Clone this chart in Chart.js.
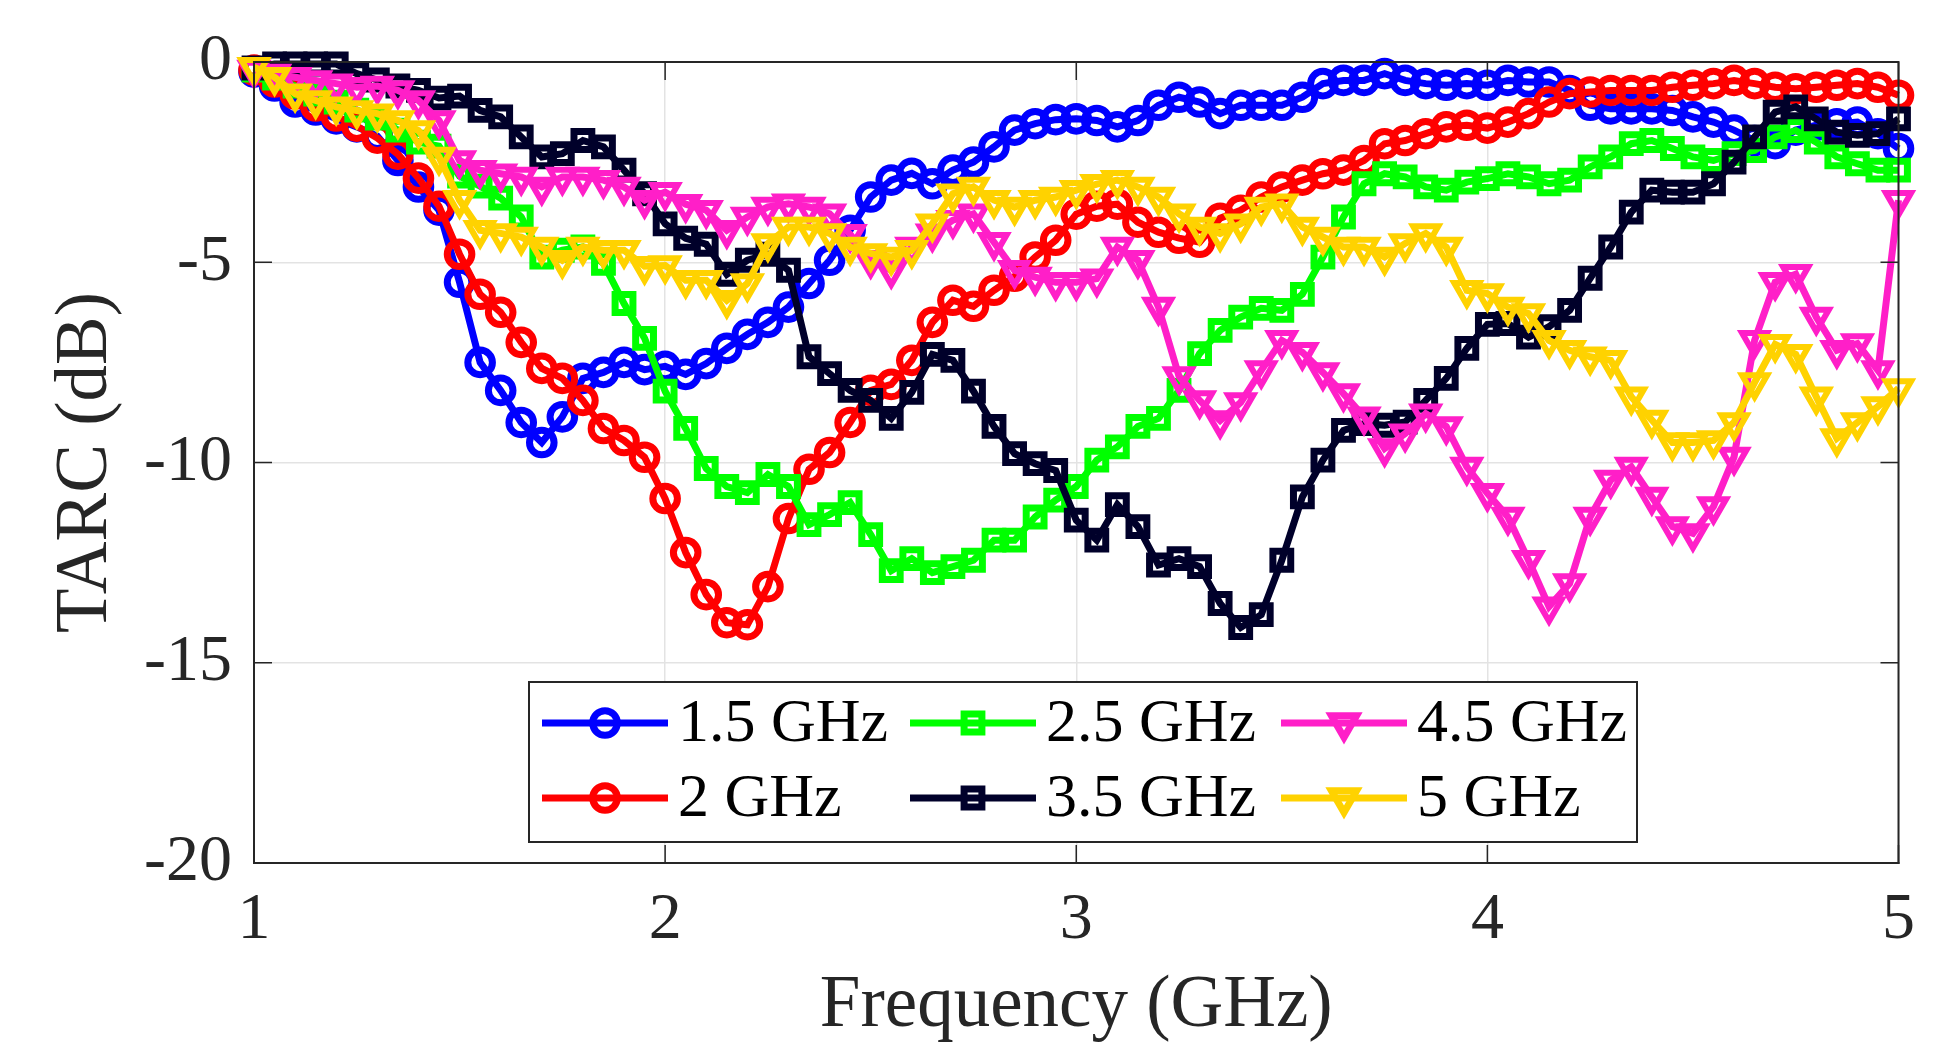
<!DOCTYPE html>
<html>
<head>
<meta charset="utf-8">
<title>TARC vs Frequency</title>
<script src="https://cdn.jsdelivr.net/npm/chart.js@4.4.1/dist/chart.umd.min.js"></script>
<style>
html, body { margin: 0; padding: 0; background: #fff; }
#wrap { width: 1933px; height: 1043px; }
</style>
</head>
<body>
<div id="wrap"><canvas id="tarc" width="1933" height="1043"></canvas></div>
<script>
const freq = [
    1.00, 1.05, 1.10, 1.15, 1.20, 1.25, 1.30, 1.35, 1.40,
    1.45, 1.50, 1.55, 1.60, 1.65, 1.70, 1.75, 1.80, 1.85,
    1.90, 1.95, 2.00, 2.05, 2.10, 2.15, 2.20, 2.25, 2.30,
    2.35, 2.40, 2.45, 2.50, 2.55, 2.60, 2.65, 2.70, 2.75,
    2.80, 2.85, 2.90, 2.95, 3.00, 3.05, 3.10, 3.15, 3.20,
    3.25, 3.30, 3.35, 3.40, 3.45, 3.50, 3.55, 3.60, 3.65,
    3.70, 3.75, 3.80, 3.85, 3.90, 3.95, 4.00, 4.05, 4.10,
    4.15, 4.20, 4.25, 4.30, 4.35, 4.40, 4.45, 4.50, 4.55,
    4.60, 4.65, 4.70, 4.75, 4.80, 4.85, 4.90, 4.95, 5.00
];

const tarc15 = [
    -0.25, -0.6, -1.0, -1.2, -1.42, -1.62, -1.85, -2.46, -3.12,
    -3.7, -5.5, -7.5, -8.2, -9.0, -9.5, -8.86, -7.9, -7.75,
    -7.5, -7.68, -7.6, -7.8, -7.53, -7.15, -6.8, -6.5, -6.12,
    -5.53, -4.95, -4.2, -3.37, -2.95, -2.78, -3.04, -2.7, -2.5,
    -2.12, -1.7, -1.54, -1.44, -1.42, -1.46, -1.62, -1.46, -1.08,
    -0.88, -1.0, -1.29, -1.08, -1.08, -1.08, -0.88, -0.54, -0.46,
    -0.46, -0.29, -0.46, -0.54, -0.58, -0.54, -0.58, -0.46, -0.5,
    -0.5, -0.71, -1.08, -1.17, -1.17, -1.17, -1.21, -1.37, -1.5,
    -1.7, -1.96, -2.04, -1.7, -1.58, -1.54, -1.5, -1.79, -2.16
];

const tarc20 = [
    -0.2, -0.5, -0.8, -1.1, -1.35, -1.6, -1.9, -2.3, -2.9,
    -3.6, -4.8, -5.8, -6.25, -7.0, -7.65, -7.9, -8.45, -9.15,
    -9.45, -9.87, -10.9, -12.25, -13.3, -14.0, -14.05, -13.1, -11.4,
    -10.17, -9.75, -9.0, -8.2, -8.05, -7.45, -6.5, -5.95, -6.1,
    -5.7, -5.35, -4.87, -4.45, -3.8, -3.6, -3.55, -4.0, -4.25,
    -4.4, -4.5, -3.9, -3.7, -3.37, -3.12, -2.95, -2.79, -2.7,
    -2.46, -2.04, -1.96, -1.79, -1.62, -1.58, -1.65, -1.5, -1.29,
    -1.0, -0.79, -0.75, -0.71, -0.71, -0.71, -0.63, -0.58, -0.54,
    -0.46, -0.54, -0.63, -0.67, -0.63, -0.58, -0.54, -0.63, -0.83
];

const tarc25 = [
    -0.2, -0.4, -0.6, -0.8, -1.0, -1.2, -1.4, -1.7, -2.0,
    -2.1, -2.85, -3.1, -3.4, -3.87, -4.87, -4.7, -4.62, -5.03,
    -6.03, -6.9, -8.22, -9.15, -10.15, -10.6, -10.75, -10.3, -10.6,
    -11.55, -11.3, -11.0, -11.8, -12.7, -12.4, -12.75, -12.6, -12.44,
    -11.94, -11.94, -11.36, -10.94, -10.6, -9.94, -9.61, -9.1, -8.9,
    -8.2, -7.28, -6.7, -6.37, -6.15, -6.2, -5.8, -4.87, -3.87,
    -3.04, -2.79, -2.87, -3.12, -3.2, -3.0, -2.91, -2.79, -2.87,
    -3.04, -2.95, -2.62, -2.37, -2.04, -1.96, -2.16, -2.37, -2.46,
    -2.29, -2.21, -1.87, -1.71, -2.0, -2.37, -2.54, -2.7, -2.7
];

const tarc35 = [
    -0.15, -0.05, -0.05, -0.05, -0.05, -0.29, -0.45, -0.6, -0.71,
    -0.9, -0.85, -1.21, -1.37, -1.87, -2.37, -2.29, -1.96, -2.12,
    -2.7, -3.29, -4.04, -4.4, -4.55, -5.3, -4.95, -4.8, -5.2,
    -7.36, -7.78, -8.2, -8.45, -8.9, -8.25, -7.3, -7.45, -8.22,
    -9.1, -9.78, -10.03, -10.2, -11.44, -11.94, -11.05, -11.6, -12.56,
    -12.4, -12.6, -13.52, -14.12, -13.8, -12.44, -10.86, -9.94, -9.2,
    -9.03, -9.07, -8.99, -8.45, -7.9, -7.15, -6.55, -6.53, -6.87,
    -6.61, -6.2, -5.4, -4.62, -3.75, -3.2, -3.25, -3.25, -3.04,
    -2.5, -1.87, -1.25, -1.12, -1.42, -1.75, -1.83, -1.79, -1.42
];

const tarc45 = [
    -0.2, -0.3, -0.38, -0.46, -0.54, -0.63, -0.6, -0.71, -0.96,
    -1.46, -2.46, -2.7, -2.79, -2.87, -3.12, -2.87, -2.87, -2.95,
    -3.12, -3.45, -3.25, -3.55, -3.7, -4.2, -3.87, -3.62, -3.54,
    -3.62, -3.79, -4.3, -4.95, -5.2, -4.62, -4.29, -3.95, -3.79,
    -4.5, -5.2, -5.37, -5.5, -5.5, -5.41, -4.62, -4.95, -6.12,
    -7.85, -8.45, -8.95, -8.5, -7.7, -6.95, -7.25, -7.75, -8.28,
    -8.86, -9.65, -9.28, -8.78, -9.1, -10.11, -10.77, -11.36, -12.44,
    -13.6, -13.02, -11.36, -10.44, -10.11, -10.86, -11.6, -11.77, -11.1,
    -9.86, -6.95, -5.5, -5.3, -6.37, -7.2, -7.03, -7.7, -3.45
];

const tarc50 = [
    -0.13, -0.38, -0.79, -0.96, -1.12, -1.21, -1.29, -1.46, -1.71,
    -2.37, -3.45, -4.2, -4.28, -4.37, -4.62, -4.95, -4.62, -4.7,
    -4.7, -5.1, -5.08, -5.45, -5.45, -5.95, -5.53, -4.53, -4.12,
    -4.12, -4.28, -4.62, -4.78, -4.87, -4.7, -4.04, -3.29, -3.12,
    -3.45, -3.62, -3.45, -3.37, -3.2, -3.05, -2.95, -3.12, -3.37,
    -3.79, -4.12, -4.28, -4.04, -3.62, -3.54, -4.12, -4.37, -4.62,
    -4.62, -4.87, -4.53, -4.28, -4.62, -5.7, -5.78, -6.12, -6.28,
    -6.95, -7.2, -7.36, -7.45, -8.36, -8.94, -9.5, -9.5, -9.45,
    -9.0, -8.0, -7.05, -7.3, -8.36, -9.4, -9.0, -8.6, -8.15
];

const xTicks = [1, 2, 3, 4, 5];
const yTicks = [0, -5, -10, -15, -20];

const series = [
    { name: '1.5 GHz', values: tarc15, color: '#0000ff', marker: 'circle' },
    { name: '2 GHz', values: tarc20, color: '#ff0000', marker: 'circle' },
    { name: '2.5 GHz', values: tarc25, color: '#00ff00', marker: 'square' },
    { name: '3.5 GHz', values: tarc35, color: '#00002a', marker: 'square' },
    { name: '4.5 GHz', values: tarc45, color: '#ff1fc8', marker: 'triangle' },
    { name: '5 GHz', values: tarc50, color: '#ffd200', marker: 'triangle' }
];

const textColor = '#262626';
const fontFamily = "'Liberation Serif', 'Times New Roman', serif";
const lineW = 7;
const markW = 7;
const triR = 14.5;

function markerOpts(m) {
    if (m === 'circle') return { pointStyle: 'circle', pointRadius: 12.3, pointRotation: 0 };
    if (m === 'square') return { pointStyle: 'rect', pointRadius: 12.6, pointRotation: 0 };
    return { pointStyle: 'triangle', pointRadius: triR, pointRotation: 180 };
}

function drawMarker(ctx, m, x, y, color) {
    ctx.save();
    ctx.strokeStyle = color;
    ctx.lineWidth = markW;
    ctx.beginPath();
    if (m === 'circle') {
        ctx.arc(x, y, 12.3, 0, Math.PI * 2);
    } else if (m === 'square') {
        ctx.rect(x - 8.9, y - 8.9, 17.8, 17.8);
    } else {
        ctx.moveTo(x - triR * 0.866, y - triR / 2);
        ctx.lineTo(x + triR * 0.866, y - triR / 2);
        ctx.lineTo(x, y + triR);
        ctx.closePath();
    }
    ctx.stroke();
    ctx.restore();
}

const datasets = series.map((s, i) => Object.assign({
    label: s.name,
    data: freq.map((f, k) => ({ x: f, y: s.values[k] })),
    borderColor: s.color,
    backgroundColor: s.color,
    pointBorderColor: s.color,
    pointBackgroundColor: 'rgba(0,0,0,0)',
    borderWidth: lineW,
    pointBorderWidth: s.marker === 'triangle' ? 6 : markW,
    tension: 0,
    clip: false,
    order: series.length - 1 - i
}, markerOpts(s.marker)));

// axes box with MATLAB style inward ticks
const framePlugin = {
    id: 'frame',
    afterDatasetsDraw(chart) {
        const { ctx, chartArea: a, scales } = chart;
        ctx.save();
        ctx.strokeStyle = textColor;
        ctx.lineWidth = 2;
        ctx.strokeRect(a.left, a.top, a.right - a.left, a.bottom - a.top);
        ctx.lineWidth = 1.5;
        ctx.beginPath();
        xTicks.forEach(v => {
            const px = scales.x.getPixelForValue(v);
            ctx.moveTo(px, a.bottom); ctx.lineTo(px, a.bottom - 18);
            ctx.moveTo(px, a.top); ctx.lineTo(px, a.top + 18);
        });
        yTicks.forEach(v => {
            const py = scales.y.getPixelForValue(v);
            ctx.moveTo(a.left, py); ctx.lineTo(a.left + 18, py);
            ctx.moveTo(a.right, py); ctx.lineTo(a.right - 18, py);
        });
        ctx.stroke();
        ctx.restore();
    }
};

// legend drawn inside the axes, two rows by three columns
const legendPlugin = {
    id: 'insideLegend',
    afterDraw(chart) {
        const ctx = chart.ctx;
        const box = { x: 529, y: 682, w: 1108, h: 160 };
        const colX = [542, 910, 1281];
        const rowY = [723, 798];
        ctx.save();
        ctx.fillStyle = '#ffffff';
        ctx.fillRect(box.x, box.y, box.w, box.h);
        ctx.strokeStyle = textColor;
        ctx.lineWidth = 2;
        ctx.strokeRect(box.x, box.y, box.w, box.h);
        ctx.font = '62px ' + fontFamily;
        ctx.textBaseline = 'middle';
        ctx.textAlign = 'left';
        series.forEach((s, i) => {
            const x0 = colX[Math.floor(i / 2)];
            const y0 = rowY[i % 2];
            ctx.strokeStyle = s.color;
            ctx.lineWidth = lineW;
            ctx.beginPath();
            ctx.moveTo(x0, y0);
            ctx.lineTo(x0 + 126, y0);
            ctx.stroke();
            drawMarker(ctx, s.marker, x0 + 63, y0, s.color);
            ctx.fillStyle = '#000000';
            ctx.fillText(s.name, x0 + 136, y0 + 2);
        });
        ctx.restore();
    }
};

Chart.defaults.font.family = fontFamily;
Chart.defaults.color = textColor;

new Chart(document.getElementById('tarc'), {
    type: 'line',
    data: { datasets: datasets },
    options: {
        responsive: false,
        animation: false,
        devicePixelRatio: 1,
        layout: { padding: { left: 0, right: 25, top: 62, bottom: 0 } },
        plugins: {
            legend: { display: false },
            tooltip: { enabled: false }
        },
        scales: {
            x: {
                type: 'linear',
                min: 1,
                max: 5,
                afterBuildTicks: scale => { scale.ticks = xTicks.map(v => ({ value: v })); },
                afterFit: scale => { scale.height = 180; },
                ticks: {
                    font: { size: 66 },
                    color: textColor,
                    padding: 18,
                    maxRotation: 0,
                    callback: v => String(v)
                },
                grid: { color: '#e3e3e3', lineWidth: 1.5, drawTicks: false },
                border: { display: true, color: textColor, width: 2 },
                title: {
                    display: true,
                    text: 'Frequency (GHz)',
                    font: { size: 73, lineHeight: 1.0 },
                    color: textColor,
                    padding: { top: 0, bottom: 0 }
                }
            },
            y: {
                type: 'linear',
                min: -20,
                max: 0,
                afterBuildTicks: scale => { scale.ticks = yTicks.map(v => ({ value: v })); },
                afterFit: scale => { scale.width = 254; },
                ticks: {
                    font: { size: 66 },
                    color: textColor,
                    padding: 22,
                    callback: v => String(v)
                },
                grid: { color: '#e3e3e3', lineWidth: 1.5, drawTicks: false },
                border: { display: true, color: textColor, width: 2 },
                title: {
                    display: true,
                    text: 'TARC (dB)',
                    font: { size: 73, lineHeight: 1.0 },
                    color: textColor,
                    padding: { top: 50, bottom: 0 }
                }
            }
        }
    },
    plugins: [framePlugin, legendPlugin]
});
</script>
</body>
</html>
